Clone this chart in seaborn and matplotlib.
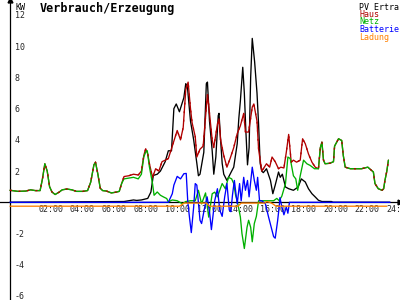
import matplotlib
matplotlib.use("Agg")
import matplotlib.pyplot as plt
import matplotlib.transforms as mtransforms
import seaborn as sns
import numpy as np

# ---------------- data (hours, kW) ----------------
haus_h = [0.0, 0.5, 1.0, 1.3, 1.6, 1.9, 2.05, 2.2, 2.35, 2.5, 2.65, 2.85, 3.1, 3.3, 3.6, 3.9,
          4.2, 4.6, 4.9, 5.1, 5.3, 5.4, 5.55, 5.7, 5.85, 6.1, 6.4, 6.7, 6.9, 7.05, 7.2, 7.5,
          7.8, 8.1, 8.3, 8.45, 8.57, 8.7, 8.8, 9.0, 9.2, 9.4, 9.6, 9.8, 10.0, 10.25, 10.56,
          10.77, 10.94, 11.1, 11.25, 11.4, 11.5, 11.7, 11.8, 12.0, 12.2, 12.35, 12.47, 12.55,
          12.77, 12.87, 13.1, 13.2, 13.3, 13.5, 13.7, 13.9, 14.13, 14.35, 14.55, 14.76, 14.87,
          15.07, 15.3, 15.4, 15.6, 15.7, 15.9, 16.0, 16.2, 16.4, 16.55, 16.75, 16.96, 17.1,
          17.3, 17.45, 17.6, 17.76, 17.9, 18.1, 18.33, 18.48, 18.65, 18.85, 19.07, 19.28,
          19.48, 19.6, 19.7, 19.8, 19.9, 20.2, 20.43, 20.5, 20.75, 20.95, 21.05, 21.17, 21.5,
          22.2, 22.6, 22.95, 23.05, 23.26, 23.5, 23.6, 23.68, 23.8, 23.9]
haus_kw = [0.77, 0.7, 0.72, 0.8, 0.75, 0.75, 1.5, 2.47, 2.0, 1.0, 0.66, 0.5, 0.65, 0.8, 0.85, 0.8,
           0.7, 0.7, 0.75, 1.3, 2.4, 2.57, 1.8, 0.9, 0.75, 0.72, 0.6, 0.65, 0.7, 1.2, 1.65, 1.7,
           1.8, 1.75, 2.0, 3.0, 3.43, 3.1, 2.5, 1.6, 2.15, 2.0, 2.6, 2.7, 2.8, 3.6, 4.6,
           4.0, 4.8, 7.2, 7.7, 6.0, 5.1, 4.2, 2.9, 3.4, 3.6, 5.45, 6.9, 6.2,
           4.0, 3.5, 5.0, 5.35, 4.0, 3.0, 2.25, 2.8, 3.5, 4.4, 4.9, 5.7, 4.5,
           4.5, 6.1, 6.3, 5.2, 3.4, 2.0, 2.15, 2.47, 2.25, 2.9, 2.6, 2.15, 2.25,
           2.2, 3.2, 4.35, 2.57, 2.7, 2.57, 2.7, 4.07, 3.75, 3.1, 2.57, 2.25,
           2.15, 3.5, 3.85, 2.7, 2.47, 2.5, 2.6, 3.6, 4.07, 3.96, 3.0, 2.25, 2.15,
           2.15, 2.25, 1.94, 1.2, 0.87, 0.77, 0.87, 1.4, 2.0, 2.7]

netz_h = [0.0, 0.5, 1.0, 1.3, 1.6, 1.9, 2.05, 2.2, 2.35, 2.5, 2.65, 2.85, 3.1, 3.3, 3.6, 3.9,
          4.2, 4.6, 4.9, 5.1, 5.3, 5.4, 5.55, 5.7, 5.85, 6.1, 6.4, 6.7, 6.9, 7.05, 7.2, 7.5,
          7.8, 8.1, 8.3, 8.45, 8.6, 8.67, 8.8, 9.0, 9.1, 9.3, 9.5, 9.7, 9.9, 10.0, 10.25,
          10.56, 10.9, 11.1, 11.4, 11.7, 11.9, 12.1, 12.35, 12.55, 12.77, 12.93, 13.1, 13.4,
          13.6, 13.8, 14.0, 14.13, 14.25, 14.35, 14.55, 14.65, 14.8, 14.97, 15.07, 15.2, 15.3,
          15.43, 15.56, 15.7, 16.2, 16.65, 16.85, 17.0, 17.17, 17.4, 17.55, 17.7, 17.9, 18.05,
          18.17, 18.33, 18.54, 18.75, 18.96, 19.23, 19.48, 19.6, 19.7, 19.8, 19.9, 20.2,
          20.43, 20.5, 20.75, 20.95, 21.05, 21.17, 21.5, 22.2, 22.6, 22.95, 23.05, 23.26,
          23.5, 23.6, 23.68, 23.8, 23.9]
netz_kw = [0.77, 0.7, 0.72, 0.8, 0.75, 0.75, 1.5, 2.47, 2.0, 1.0, 0.66, 0.5, 0.65, 0.8, 0.85, 0.8,
           0.7, 0.7, 0.75, 1.3, 2.4, 2.57, 1.8, 0.9, 0.75, 0.72, 0.6, 0.65, 0.7, 1.2, 1.5, 1.55,
           1.6, 1.5, 1.8, 2.9, 3.3, 3.3, 2.3, 1.2, 0.45, 0.66, 0.45, 0.34, 0.24, 0.02, 0.15,
           0.1, -0.1, 0.05, 0.1, 0.1, 0.77, -0.1, 0.6, -0.95, 0.55, 0.65, 0.35, 1.2,
           0.87, 1.6, 1.5, 1.2, 0.45, 0.1, -0.94, -2.0, -2.96, -1.6, -1.15, -1.6, -2.53,
           -1.36, -0.9, 0.1, 0.1, 0.1, 0.25, 0.1, 0.4, 1.2, 2.9, 2.8, 1.7, 1.5,
           0.77, 1.7, 2.7, 2.47, 2.36, 2.15, 2.15, 3.5, 3.85, 2.7, 2.47, 2.5,
           2.6, 3.6, 4.07, 3.96, 3.0, 2.25, 2.15, 2.15, 2.25, 1.94, 1.2, 0.87,
           0.77, 0.87, 1.4, 2.0, 2.7]

pv_h = [0.0, 7.2, 7.5, 7.8, 8.0, 8.3, 8.5, 8.7, 8.9, 9.05, 9.3, 9.5, 9.8, 10.0, 10.2, 10.35,
        10.5, 10.7, 10.98, 11.1, 11.2, 11.4, 11.6, 11.8, 11.9, 12.0, 12.24, 12.4, 12.47, 12.6,
        12.77, 12.87, 13.0, 13.15, 13.2, 13.3, 13.4, 13.5, 13.7, 14.0, 14.13, 14.35, 14.45,
        14.55, 14.7, 14.8, 14.9, 15.0, 15.1, 15.2, 15.3, 15.45, 15.6, 15.7, 15.8, 15.9, 16.0,
        16.2, 16.45, 16.6, 16.75, 16.96, 17.07, 17.2, 17.4, 17.6, 17.9, 18.2, 18.4, 18.65,
        18.85, 19.07, 19.28, 19.48, 19.7, 20.3, 20.4, 24.0]
pv_kw = [0.0, 0.05, 0.1, 0.15, 0.12, 0.15, 0.2, 0.25, 0.66, 1.72, 1.8, 2.0, 2.6, 3.3, 3.3, 6.0,
         6.3, 5.8, 6.7, 7.6, 7.45, 5.2, 4.0, 2.5, 1.7, 1.8, 3.2, 7.6, 7.7, 5.2,
         3.3, 1.8, 2.9, 5.55, 5.7, 4.0, 2.5, 1.8, 1.4, 2.0, 2.25, 3.75, 5.35,
         6.5, 8.65, 7.0, 4.5, 2.4, 3.5, 8.0, 10.5, 9.0, 7.0, 5.0, 2.5, 2.0, 1.9,
         2.15, 1.4, 0.55, 1.1, 1.94, 1.6, 1.8, 0.98, 0.87, 0.77, 0.98, 1.5, 1.3,
         0.87, 0.55, 0.34, 0.13, 0.05, 0.05, 0.0, 0.0]

batt_h = [0.0, 10.0, 10.25, 10.35, 10.56, 10.77, 10.98, 11.13, 11.23, 11.34, 11.45, 11.6, 11.7,
          11.8, 12.0, 12.1, 12.3, 12.45, 12.6, 12.72, 12.93, 13.1, 13.25, 13.4, 13.56, 13.7,
          13.85, 13.95, 14.05, 14.17, 14.35, 14.5, 14.6, 14.76, 14.87, 15.0, 15.1, 15.3, 15.43,
          15.56, 15.64, 15.76, 15.9, 16.13, 16.33, 16.65, 16.75, 16.9, 17.0, 17.05, 17.17,
          17.3, 17.45, 17.55, 17.65, 24.0]
batt_kw = [0.0, 0.0, 0.55, 1.1, 1.66, 1.5, 1.83, 1.85, 0.0, -1.0, -1.94, -0.3, 1.2,
           1.1, -1.15, -1.36, -0.3, 0.35, -0.6, -1.75, 0.1, 0.87, -0.5, -0.9, 0.35, 1.2,
           -0.5, -0.6, 0.45, 1.4, -0.1, 1.2, 0.1, 1.6, 0.77, 1.4, 0.35, 2.25, 1.4,
           0.77, 1.6, 0.1, 0.1, -0.1, -0.94, -2.2, -2.3, -1.2, -0.3, 0.3, -0.3,
           -0.8, -0.3, -0.7, 0.0, 0.0]

lad_h = [0.0, 10.7, 11.0, 12.4, 12.6, 14.4, 14.6, 16.1, 16.2, 16.4, 16.6, 16.8, 23.8]
lad_kw = [-0.25, -0.25, -0.05, -0.05, -0.25, -0.25, -0.05, -0.05, 0.05, 0.0, -0.1, -0.25, -0.25]

x_ticks = [2, 4, 6, 8, 10, 12, 14, 16, 18, 20, 22, 24]
x_labels = ["02:00", "04:00", "06:00", "08:00", "10:00", "12:00", "14:00", "16:00",
            "18:00", "20:00", "22:00", "24:00"]
y_ticks = [-6, -4, -2, 2, 4, 6, 8, 10, 12]
y_labels = ["-6", "-4", "-2", "2", "4", "6", "8", "10", "12"]

series_names = ["PV Ertra", "Haus", "Netz", "Batterie", "Ladung"]
colors = {"PV Ertra": "#000000", "Haus": "#b00000", "Netz": "#00b000",
          "Batterie": "#0000ff", "Ladung": "#ff8000"}

# ---------------- figure ----------------
sns.set_style("white")
plt.rcParams["font.family"] = ["DejaVu Sans Mono", "DejaVu Sans"]

fig = plt.figure(figsize=(4, 3), dpi=100)
fig.patch.set_facecolor("white")
ax = fig.add_axes([0, 0, 1, 1])
ax.set_facecolor("white")

pxh = 380 / 24.0
ax.set_xlim(-10 / pxh, 390 / pxh)
pxk = 15.61
ax.set_ylim(-(300 - 202.3) / pxk, 202.3 / pxk)

lw = 0.95
data_map = {
    "PV Ertra": (pv_h, pv_kw),
    "Haus": (haus_h, haus_kw),
    "Netz": (netz_h, netz_kw),
    "Batterie": (batt_h, batt_kw),
    "Ladung": (lad_h, lad_kw),
}
for name in series_names:
    xs, ys = data_map[name]
    sns.lineplot(x=xs, y=ys, ax=ax, color=colors[name], lw=lw, estimator=None,
                 sort=False, legend=False)
    if name == "Netz":
        # Haus shows through where it coincides with Netz (sparse dashes on top)
        hx, hy = data_map["Haus"]
        sns.lineplot(x=hx, y=hy, ax=ax, color=colors["Haus"], lw=lw, estimator=None,
                     sort=False, legend=False, linestyle=(0, (1.5, 5)))

# axes styling
for s in ["top", "right"]:
    ax.spines[s].set_visible(False)
ax.spines["left"].set_position(("data", 0))
ax.spines["bottom"].set_position(("data", 0))
for s in ["left", "bottom"]:
    ax.spines[s].set_color("black")
    ax.spines[s].set_linewidth(0.9)
    ax.spines[s].set_zorder(0.5)

ax.set_xticks(x_ticks)
ax.set_xticklabels(x_labels, fontsize=6)
ax.set_yticks(y_ticks)
ax.set_yticklabels(y_labels, fontsize=6)
ax.tick_params(axis="both", direction="inout", length=4.3, width=0.8, color="black")
ax.tick_params(axis="x", pad=0)
ax.tick_params(axis="y", pad=-5.6)
ax.set_xlabel("")
ax.set_ylabel("")
ax.grid(False)

for lab in ax.get_xticklabels():
    lab.set_ha("left")
    lab.set_transform(lab.get_transform() +
                      mtransforms.ScaledTranslation(-3.5 / 100, 0, fig.dpi_scale_trans))
for lab in ax.get_yticklabels():
    lab.set_ha("left")

# axis arrows
ax.plot(1, 0, ">", color="black", markersize=3.5, transform=ax.get_yaxis_transform(),
        clip_on=False)
ax.plot(0, 1, "^", color="black", markersize=3.5, transform=ax.get_xaxis_transform(),
        clip_on=False)

# KW unit
fig.text(15 / 400, 1 - 2.5 / 300, "KW", fontsize=6, ha="left", va="top", color="black")

# title
fig.text(40 / 400, 1 - 2 / 300, "Verbrauch/Erzeugung", fontsize=8.5, fontweight="bold",
         ha="left", va="top", color="black")

# legend as coloured text lines
for i, name in enumerate(series_names):
    fig.text(359 / 400, 1 - (2.5 + i * 7.5) / 300, name, fontsize=6, ha="left", va="top",
             color=colors[name])

fig.savefig("out.png", dpi=100, facecolor="white")
